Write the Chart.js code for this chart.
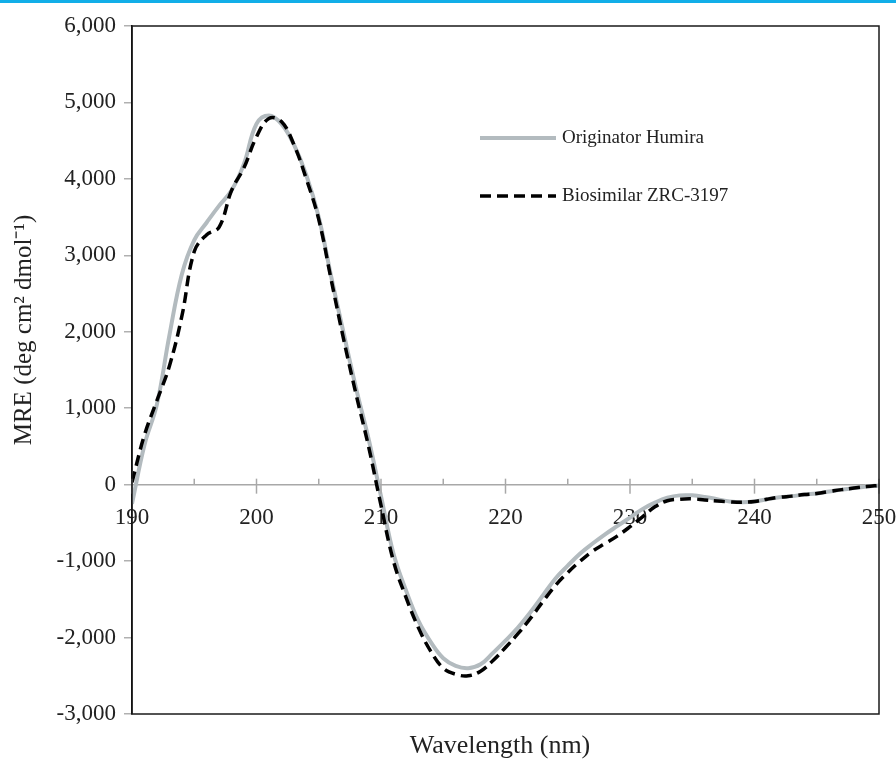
<!DOCTYPE html>
<html>
<head>
<meta charset="utf-8">
<script src="https://cdn.jsdelivr.net/npm/chart.js@4/dist/chart.umd.min.js"></script>
<style>
  body { margin: 0; background: #fff; }
  #topbar { position: absolute; left: 0; top: 0; width: 896px; height: 3px; background: #12aee8; }
  #wrap { position: absolute; left: 0; top: 0; width: 896px; height: 760px; }
</style>
</head>
<body>
<div id="wrap"><canvas id="chart" width="896" height="760"></canvas></div>
<div id="topbar"></div>
<script>
// wavelength (nm)
var wavelength = [190,191,192,193,194,195,196,197,198,199,
                  200,201,202,203,204,205,206,207,208,209,
                  210,211,212,213,214,215,216,217,218,219,
                  220,221,222,223,224,225,226,227,228,229,
                  230,231,232,233,234,235,236,237,238,239,
                  240,241,242,243,244,245,246,247,248,249,250];

// MRE values
var originator = [-250,520,1050,1950,2750,3200,3430,3650,3850,4200,
                  4720,4830,4720,4450,4050,3500,2720,1980,1260,600,
                  -150,-900,-1380,-1780,-2060,-2270,-2370,-2400,-2350,-2200,
                  -2040,-1870,-1670,-1450,-1230,-1060,-900,-770,-650,-540,
                  -430,-320,-235,-170,-140,-140,-160,-190,-220,-230,
                  -220,-190,-165,-150,-130,-115,-90,-65,-45,-25,-10];

var biosimilar = [30,650,1100,1550,2200,3050,3270,3370,3850,4150,
                  4550,4790,4750,4450,4000,3470,2680,1900,1180,500,
                  -270,-1000,-1470,-1870,-2180,-2400,-2480,-2500,-2440,-2300,
                  -2130,-1950,-1750,-1530,-1320,-1150,-1000,-870,-770,-670,
                  -550,-420,-290,-210,-190,-185,-200,-215,-225,-230,
                  -220,-190,-165,-150,-130,-115,-90,-65,-45,-25,-10];

var seriesNames = ["Originator Humira", "Biosimilar ZRC-3197"];
var grayColor = "#b3bbbf";
var serif = "'Liberation Serif', 'Times New Roman', serif";

function toPoints(ys) {
  var pts = [];
  for (var i = 0; i < wavelength.length; i++) {
    pts.push({x: wavelength[i], y: ys[i]});
  }
  return pts;
}

// frame, x tick marks, titles and legend
var extras = {
  id: "extras",
  afterDraw: function(chart) {
    var ctx = chart.ctx;
    var a = chart.chartArea;
    var xs = chart.scales.x, ys = chart.scales.y;
    var y0 = ys.getPixelForValue(0);

    ctx.save();
    // x tick marks on the zero line
    ctx.strokeStyle = "#a8a8a8";
    ctx.lineWidth = 1.5;
    xs.ticks.forEach(function(t) {
      var px = xs.getPixelForValue(t.value);
      ctx.beginPath();
      ctx.moveTo(px, y0 - 6);
      ctx.lineTo(px, t.value % 10 == 0 ? y0 + 9 : y0);
      ctx.stroke();
    });

    // frame
    ctx.strokeStyle = "#1a1a1a";
    ctx.lineWidth = 1.5;
    ctx.strokeRect(a.left, a.top, a.right - a.left, a.bottom - a.top);

    // axis titles
    ctx.fillStyle = "#222";
    ctx.font = "26px " + serif;
    ctx.textAlign = "center";
    ctx.textBaseline = "middle";
    ctx.fillText("Wavelength (nm)", 500, 746);
    ctx.font = "25px " + serif;
    ctx.translate(24, 330);
    ctx.rotate(-Math.PI / 2);
    ctx.fillText("MRE (deg cm\u00b2 dmol\u207b\u00b9)", 0, 0);
    ctx.restore();

    // legend
    ctx.save();
    ctx.lineWidth = 4;
    ctx.strokeStyle = grayColor;
    ctx.beginPath();
    ctx.moveTo(480, 138); ctx.lineTo(556, 138);
    ctx.stroke();
    ctx.strokeStyle = "#000";
    ctx.lineWidth = 3.5;
    ctx.setLineDash([11, 6]);
    ctx.beginPath();
    ctx.moveTo(480, 196); ctx.lineTo(556, 196);
    ctx.stroke();
    ctx.setLineDash([]);
    ctx.fillStyle = "#222";
    ctx.font = "19px " + serif;
    ctx.textAlign = "left";
    ctx.textBaseline = "middle";
    ctx.fillText(seriesNames[0], 562, 138);
    ctx.fillText(seriesNames[1], 562, 196);
    ctx.restore();
  }
};

new Chart(document.getElementById("chart"), {
  type: "line",
  data: {
    datasets: [
      {
        label: seriesNames[1],
        data: toPoints(biosimilar),
        borderColor: "#000",
        borderWidth: 3.5,
        borderDash: [11, 6],
        pointRadius: 0,
        tension: 0.4,
        fill: false,
        order: 0
      },
      {
        label: seriesNames[0],
        data: toPoints(originator),
        borderColor: grayColor,
        borderWidth: 4,
        pointRadius: 0,
        tension: 0.4,
        fill: false,
        order: 1
      }
    ]
  },
  options: {
    responsive: false,
    animation: false,
    layout: { padding: { top: 26, bottom: 46, right: 17, left: 0 } },
    plugins: {
      legend: { display: false },
      tooltip: { enabled: false }
    },
    scales: {
      x: {
        type: "linear",
        position: { y: 0 },
        min: 190,
        max: 250,
        border: { color: "#a8a8a8", width: 1.5 },
        grid: { drawOnChartArea: false, drawTicks: false },
        ticks: {
          stepSize: 5,
          autoSkip: false,
          maxRotation: 0,
          padding: 19,
          color: "#222",
          font: { family: serif, size: 23 },
          callback: function(v) { return v % 10 == 0 ? v : ""; }
        },
        afterFit: function(scale) {
          scale.paddingLeft = 0;
          scale.paddingRight = 0;
        }
      },
      y: {
        type: "linear",
        min: -3000,
        max: 6000,
        border: { color: "#000", width: 1.5 },
        grid: { drawOnChartArea: false, drawTicks: true, tickLength: 8, color: "#b0b0b0", lineWidth: 1.5 },
        ticks: {
          stepSize: 1000,
          padding: 8,
          color: "#222",
          font: { family: serif, size: 23 },
          callback: function(v) { return v.toLocaleString("en-US"); }
        },
        afterFit: function(scale) {
          scale.width = 132;
          scale.paddingTop = 0;
          scale.paddingBottom = 0;
        }
      }
    }
  },
  plugins: [extras]
});
</script>
</body>
</html>
